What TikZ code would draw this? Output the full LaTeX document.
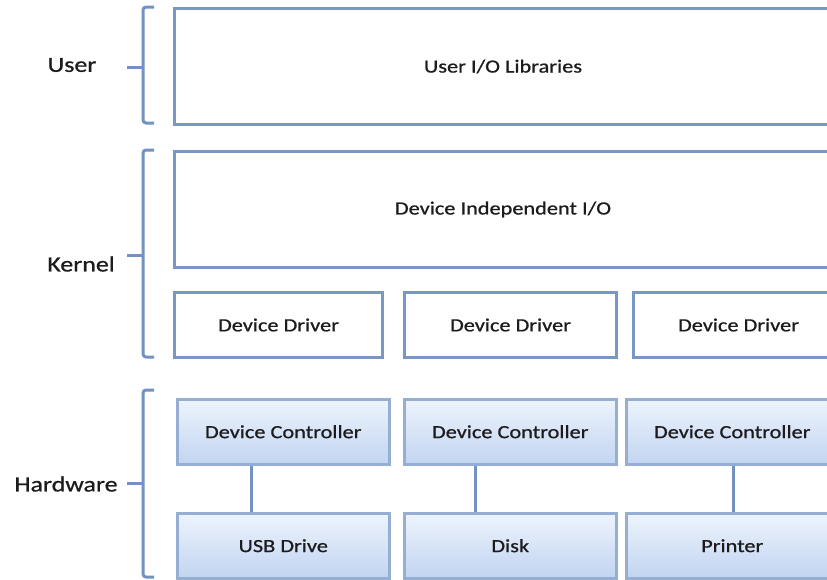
\documentclass[tikz,border=0pt]{standalone}
\usepackage{fontspec}
\setmainfont[FakeStretch=1.2,FakeBold=0.8]{Carlito}
\usetikzlibrary{positioning}
\definecolor{braceblue}{RGB}{114,146,196}
\definecolor{layerblue}{RGB}{120,151,197}
\definecolor{hwblue}{RGB}{150,174,210}
\definecolor{hwtop}{RGB}{237,244,253}
\definecolor{hwbottom}{RGB}{194,212,240}
\definecolor{ink}{RGB}{28,28,30}
\tikzset{
    layer/.style = {draw=layerblue,line width=3pt,fill=white,inner sep=0,anchor=north west,
                    text=ink,font=\fontsize{18.6}{20}\selectfont},
    hwbox/.style = {layer,draw=hwblue,line width=2.5pt,top color=hwtop,bottom color=hwbottom},
    wire/.style = {draw=braceblue,line width=3pt},
    brace/.style = {draw=braceblue,line width=3pt,rounded corners=3pt},
    levelname/.style = {text=ink,font=\fontsize{21.6}{24}\selectfont}
}

\begin{document}
\begin{tikzpicture}[x=1pt,y=-1pt]
        \clip (0,0) rectangle (827,579);
        % Levels
        \node[levelname] (user) at (72,65) {User};
        \node[levelname] (kernel) at (81,264) {Kernel};
        \node[levelname] (hardware) at (66,484) {Hardware};
        \foreach \top/\tick/\bot in {7/67/123,150/255/357,390/483/577} {
            \draw[brace] (154,\top) -- (143,\top) -- (143,\bot) -- (154,\bot);
            \draw[brace] (127,\tick) -- (143,\tick);
        }
        % User and kernel layers
        \node[layer,minimum width=657,minimum height=116] (userlib) at (173,7) {User I/O Libraries};
        \node[layer,minimum width=657,minimum height=116] (indep) at (173,150) {Device Independent I/O};
        \node[layer,minimum width=208,minimum height=65] (drv1) at (173,291) {Device Driver};
        \node[layer,minimum width=212,minimum height=65] (drv2) at (403,291) {Device Driver};
        \node[layer,minimum width=210,minimum height=65] (drv3) at (632,291) {Device Driver};
        % Hardware
        \node[hwbox,minimum width=212,minimum height=65] (ctl1) at (176,398) {Device Controller};
        \node[hwbox,minimum width=212,minimum height=65] (ctl2) at (403,398) {Device Controller};
        \node[hwbox,minimum width=212,minimum height=65] (ctl3) at (625,398) {Device Controller};
        \node[hwbox,minimum width=212,minimum height=65] (usb) at (176,512) {USB Drive};
        \node[hwbox,minimum width=212,minimum height=65] (disk) at (403,512) {Disk};
        \node[hwbox,minimum width=212,minimum height=65] (printer) at (625,512) {Printer};
        % Links
        \foreach \src/\dest/\shift in {ctl1/usb/-32,ctl2/disk/-35,ctl3/printer/1}
            \draw[wire] ([xshift=\shift]\src.south) to ([xshift=\shift]\dest.north);
\end{tikzpicture}
\end{document}
